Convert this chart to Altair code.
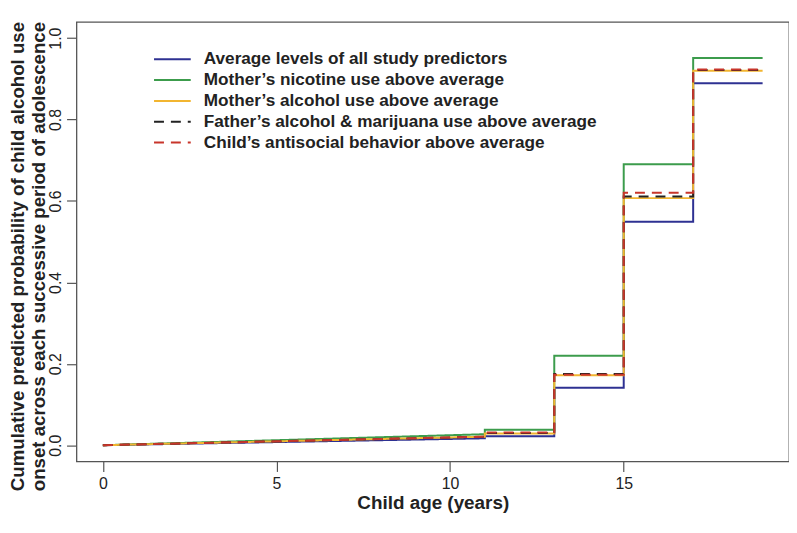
import altair as alt
import pandas as pd

series = [
    "Average levels of all study predictors",
    "Mother\u2019s nicotine use above average",
    "Mother\u2019s alcohol use above average",
    "Father\u2019s alcohol & marijuana use above average",
    "Child\u2019s antisocial behavior above average",
]
colors = ["#2e3192", "#3c9c4c", "#f2b530", "#222222", "#c8352b"]
widths = [2, 2, 4.5, 2.5, 2.5]
dashes = [[1, 0], [1, 0], [1, 0], [10, 7], [10, 7]]

# ages where the curves change
age_start = 0
age_knots = [11, 13, 15, 17, 19]

# cumulative probability at age 0 and just before age 11
p_start = [0.0, 0.0, 0.0, 0.0, 0.0]
p_before_11 = [0.017, 0.027, 0.021, 0.021, 0.021]
# level held over each interval [11,13), [13,15), [15,17), [17,19]
p_11_13 = [0.022, 0.038, 0.029, 0.030, 0.031]
p_13_15 = [0.141, 0.220, 0.172, 0.175, 0.173]
p_15_17 = [0.549, 0.690, 0.607, 0.611, 0.620]
p_17_19 = [0.889, 0.951, 0.920, 0.922, 0.923]

rows = []
for i, s in enumerate(series):
    levels = [p_11_13[i], p_13_15[i], p_15_17[i], p_17_19[i]]
    pts = [(age_start, p_start[i]), (age_knots[0], p_before_11[i])]
    for k, lv in enumerate(levels):
        pts.append((age_knots[k], lv))
        pts.append((age_knots[k + 1], lv))
    for j, (a, p) in enumerate(pts):
        rows.append({"series": s, "age": a, "prob": p, "idx": j})
df = pd.DataFrame(rows)

FONT = "Liberation Sans, Arial, Helvetica, sans-serif"

x_enc = alt.X(
    "age:Q",
    scale=alt.Scale(domain=[-0.76, 19.76], nice=False, zero=False),
    axis=alt.Axis(
        values=[0, 5, 10, 15],
        format="d",
        title="Child age (years)",
        titleFontSize=19,
        titleFontWeight="bold",
        titleY=41,
        titleBaseline="middle",
        labelFontSize=16,
        labelPadding=4,
        tickSize=10,
    ),
)
y_enc = alt.Y(
    "prob:Q",
    scale=alt.Scale(domain=[-0.04, 1.04], nice=False, zero=False),
    axis=alt.Axis(
        values=[0, 0.2, 0.4, 0.6, 0.8, 1.0],
        format=".1f",
        title=[
            "Cumulative predicted probability of child alcohol use",
            "onset across each successive period of adolescence",
        ],
        titleFontSize=18.8,
        titleFontWeight="bold",
        titleAngle=270,
        titleAlign="center",
        titleBaseline="top",
        titleLineHeight=21,
        titleX=-68,
        titleY=236,
        labelFontSize=16,
        labelAngle=270,
        labelAlign="center",
        labelBaseline="bottom",
        labelPadding=3,
        tickSize=10,
    ),
)
color_enc = alt.Color(
    "series:N",
    scale=alt.Scale(domain=series, range=colors),
    legend=alt.Legend(title=None),
)
dash_enc = alt.StrokeDash(
    "series:N",
    scale=alt.Scale(domain=series, range=dashes),
    legend=alt.Legend(title=None),
)
width_enc = alt.StrokeWidth(
    "series:N",
    scale=alt.Scale(domain=series, range=widths),
    legend=alt.Legend(title=None),
)

base = alt.Chart(df).mark_line(interpolate="linear").encode(
    x=x_enc,
    y=y_enc,
    color=color_enc,
    strokeDash=dash_enc,
    strokeWidth=width_enc,
    order=alt.Order("idx:Q"),
)

layers = [base.transform_filter(alt.datum.series == s) for s in series]

chart = (
    alt.layer(*layers)
    .properties(
        width=718,
        height=443,
        autosize=alt.AutoSizeParams(type="none"),
        padding={"left": 69, "top": 12, "right": 0, "bottom": 60},
    )
    .configure(font=FONT)
    .configure_view(stroke="#555555", strokeWidth=1.3)
    .configure_axis(
        domain=False,
        grid=False,
        tickColor="#555555",
        tickWidth=1.2,
        labelColor="#222222",
        titleColor="#222222",
        labelFont=FONT,
        titleFont=FONT,
    )
    .configure_legend(
        orient="none",
        legendX=88,
        legendY=29,
        padding=0,
        symbolType="M-3,0H3",
        symbolSize=152,
        labelFontSize=17.3,
        labelFontWeight="bold",
        labelFont=FONT,
        labelColor="#222222",
        labelOffset=23,
        labelLimit=0,
        rowPadding=3,
    )
)

chart.save("out.html", embed_options={"renderer": "svg", "actions": False})
